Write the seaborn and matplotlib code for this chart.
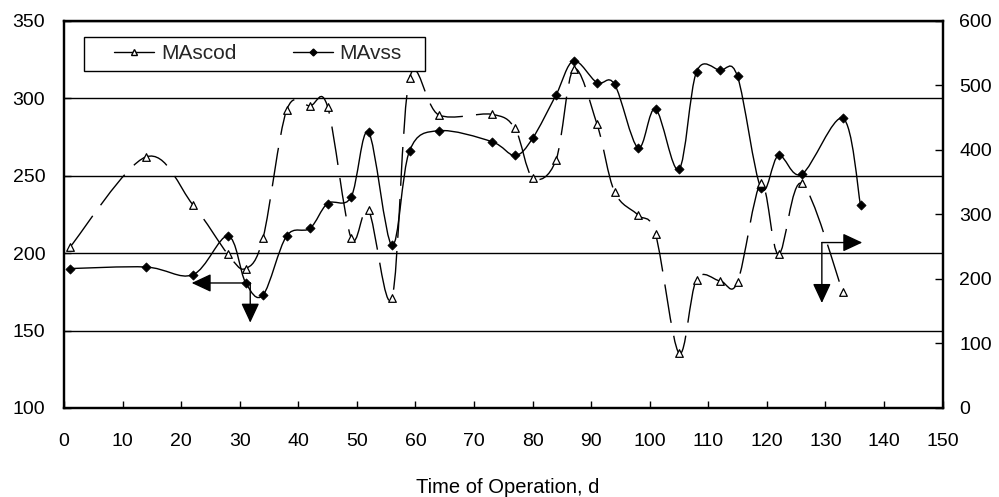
import numpy as np
import matplotlib
matplotlib.use("Agg")
import matplotlib.pyplot as plt
import seaborn as sns
from matplotlib.path import Path
from matplotlib.patches import PathPatch, Rectangle
from matplotlib.lines import Line2D

# MAvss series (left axis)
days_vss = [1, 14, 22, 28, 31, 34, 38, 42, 45, 49, 52, 56, 59, 64, 73, 77,
            80, 84, 87, 91, 94, 98, 101, 105, 108, 112, 115, 119, 122, 126, 133, 136]
mavss = [190, 191, 186, 211, 181, 173, 211, 216, 232, 236, 278, 205, 266, 279, 272, 263,
         274, 302, 324, 310, 309, 268, 293, 254, 317, 318, 314, 242, 263, 251, 287, 231]

# MAscod series (right axis)
days_cod = [1, 14, 22, 28, 31, 34, 38, 42, 45, 49, 52, 56, 59, 64, 73, 77,
            80, 84, 87, 91, 94, 98, 101, 105, 108, 112, 115, 119, 122, 126, 133]
mascod = [249, 389, 315, 238, 216, 264, 461, 468, 467, 264, 306, 171, 511, 454, 455, 433,
          357, 384, 525, 440, 335, 299, 269, 85, 199, 197, 195, 348, 238, 348, 179]

x_ticks = list(range(0, 151, 10))
left_ticks = [100, 150, 200, 250, 300, 350]
right_ticks = [0, 100, 200, 300, 400, 500, 600]
series_labels = ["MAscod", "MAvss"]
x_label = "Time of Operation, d"


def smooth_path(xs, ys):
    """Excel-style smoothed line: cubic Bezier segments through the points."""
    pts = np.column_stack([xs, ys]).astype(float)
    n = len(pts)
    verts = [pts[0]]
    codes = [Path.MOVETO]
    for i in range(n - 1):
        p0 = pts[i - 1] if i > 0 else pts[i]
        p1, p2 = pts[i], pts[i + 1]
        p3 = pts[i + 2] if i + 2 < n else pts[i + 1]
        verts += [p1 + (p2 - p0) / 6.0, p2 - (p3 - p1) / 6.0, p2]
        codes += [Path.CURVE4] * 3
    return Path(verts, codes)


sns.set_style("white")
plt.rcParams["font.family"] = ["Liberation Sans", "DejaVu Sans"]
plt.rcParams["lines.scale_dashes"] = False

fig = plt.figure(figsize=(9.99, 4.97), dpi=100)
ax = fig.add_axes([64 / 999, 89 / 497, 878.5 / 999, 387.3 / 497])
ax2 = ax.twinx()

# MAvss: solid smoothed line, filled diamonds
ax.add_patch(PathPatch(smooth_path(days_vss, mavss), fill=False,
                       edgecolor="black", lw=1.0, zorder=3))
sns.scatterplot(x=days_vss, y=mavss, marker="D", s=22, color="black",
                edgecolor="black", linewidth=0.5, ax=ax, zorder=4, legend=False)

# MAscod: long-dash smoothed line, hollow triangles
ax2.add_patch(PathPatch(smooth_path(days_cod, mascod), fill=False,
                        edgecolor="black", lw=1.0, ls=(0, (28, 9.5)), zorder=3))
sns.scatterplot(x=days_cod, y=mascod, marker="^", s=30, facecolor="white",
                edgecolor="black", linewidth=0.9, ax=ax2, zorder=4, legend=False)

ax.set_xlim(0, 150)
ax.set_ylim(100, 350)
ax2.set_ylim(0, 600)
ax.set_xticks(x_ticks)
ax.set_yticks(left_ticks)
ax2.set_yticks(right_ticks)

ax.yaxis.grid(True, color="black", lw=1.0)
ax.xaxis.grid(False)
ax2.grid(False)

for a in (ax, ax2):
    for sp in a.spines.values():
        sp.set_color("black")
        sp.set_linewidth(1.6)
ax.tick_params(axis="x", direction="in", length=5, width=1.0, pad=18,
               labelsize=14, colors="black", bottom=True)
ax.tick_params(axis="y", direction="in", length=5, width=1.0, pad=13.5,
               labelsize=14, colors="black", left=True)
ax2.tick_params(axis="y", direction="in", length=6, width=1.0, pad=12,
                labelsize=14, colors="black", right=True)

ax.set_xlabel(x_label, fontsize=14.5, color="black")
ax.xaxis.set_label_coords(0.505, -0.18)
ax.set_ylabel("")
ax2.set_ylabel("")

# direction arrows
arrow = dict(arrowstyle="-|>,head_length=0.6,head_width=0.28", color="black",
             lw=1.0, mutation_scale=20, shrinkA=0, shrinkB=0)
ax.annotate("", xy=(21.8, 180.7), xytext=(31.8, 180.7), arrowprops=arrow, zorder=5)
ax.annotate("", xy=(31.8, 155.1), xytext=(31.8, 180.7), arrowprops=arrow, zorder=5)
ax.annotate("", xy=(136.3, 206.8), xytext=(129.4, 206.8), arrowprops=arrow, zorder=5)
ax.annotate("", xy=(129.4, 167.8), xytext=(129.4, 206.8), arrowprops=arrow, zorder=5)

# legend with its own box
ax2.add_patch(Rectangle((0.0231, 0.8709), 0.3878, 0.0878, transform=ax2.transAxes,
                        facecolor="white", edgecolor="black", lw=1.0, zorder=6))
handles = [
    Line2D([], [], color="black", lw=1.0, marker="^", markersize=4.5,
           markerfacecolor="white", markeredgecolor="black"),
    Line2D([], [], color="black", lw=1.0, marker="D", markersize=3.5,
           markerfacecolor="black", markeredgecolor="black"),
]
leg = ax2.legend(handles, series_labels, ncol=2, frameon=False, loc="center left",
                 bbox_to_anchor=(0.0573, 0.9148), borderpad=0, borderaxespad=0,
                 handlelength=1.92, handletextpad=0.32, columnspacing=2.7,
                 fontsize=15)
leg.set_zorder(7)

fig.savefig("out.png", dpi=100)
